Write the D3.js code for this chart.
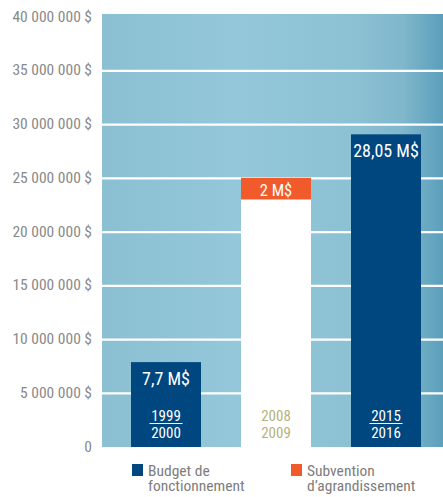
<!DOCTYPE html>
<html>
<head>
<meta charset="utf-8">
<script src="https://cdn.jsdelivr.net/npm/d3@7"></script>
<style>
  body { margin: 0; background: #fff; }
  svg text { font-family: "Liberation Sans Narrow", "Roboto Condensed", "Arial Narrow", Roboto, sans-serif; }
</style>
</head>
<body>
<div id="chart"></div>
<script>
// periods (top / bottom lines of the year label)
var periods = ['1999-2000', '2008-2009', '2015-2016'];
var yearsTop = ['1999', '2008', '2015'];
var yearsBottom = ['2000', '2009', '2016'];
// drawn heights, in dollars
var budget = [7.9e6, 23.05e6, 29.1e6];
var subvention = [0, 2e6, 0];
// labels printed on the bars
var budgetLabels = ['7,7 M$', '', '28,05 M$'];
var subventionLabels = ['', '2 M$', ''];
var yTicks = [0, 5e6, 10e6, 15e6, 20e6, 25e6, 30e6, 35e6, 40e6];
var legendNames = ['Budget de|fonctionnement', 'Subvention|d\u2019agrandissement'];

const width = 443
const height = 497

var blue = '#00467f', orange = '#f15a2b', khaki = '#b7b27c';

var svg = d3.select('#chart').append('svg')
	.attr('width', width)
	.attr('height', height);

var x = d3.scaleBand()
	.domain(periods)
	.range([111, 441])
	.paddingInner(0.3636)
	.paddingOuter(0.1818);

var y = d3.scaleLinear()
	.domain([0, 40.3e6])
	.range([447, 14]);

// background gradient
var grad = svg.append('defs').append('linearGradient')
	.attr('id', 'bg').attr('x1', 0).attr('x2', 1).attr('y1', 0).attr('y2', 0);
grad.selectAll('stop').data([
	[0, '#8bbfd2'], [0.4, '#93c7d9'], [0.75, '#8cc0d3'], [0.88, '#80b7cc'], [1, '#5b9fbb']
]).enter().append('stop')
	.attr('offset', function(d){ return d[0]; })
	.attr('stop-color', function(d){ return d[1]; });

svg.append('rect')
	.attr('x', 102).attr('y', y.range()[1])
	.attr('width', width - 102).attr('height', y(0) - y.range()[1])
	.attr('fill', 'url(#bg)');

// gridlines
svg.append('g').selectAll('line')
	.data(yTicks.filter(function(d){ return d > 0 && d < 40e6; }))
	.enter().append('line')
	.attr('x1', 102).attr('x2', width)
	.attr('y1', function(d){ return y(d); })
	.attr('y2', function(d){ return y(d); })
	.attr('stroke', '#fff').attr('stroke-width', 2.2);

// y axis labels
var fmt = function(d){
	if (d === 0) return '0';
	return d3.format(',')(d).replace(/,/g, ' ') + ' $';
};
svg.append('g').selectAll('text').data(yTicks).enter().append('text')
	.attr('x', 92)
	.attr('y', function(d){ return y(d) + 4.5; })
	.attr('text-anchor', 'end')
	.attr('font-size', 15.5)
	.attr('fill', '#898989')
	.text(fmt);

// budget bars
svg.append('g').selectAll('rect').data(budget).enter().append('rect')
	.attr('x', function(d, i){ return x(periods[i]); })
	.attr('width', x.bandwidth())
	.attr('y', function(d){ return y(d); })
	.attr('height', function(d){ return y(0) - y(d); })
	.attr('fill', function(d, i){ return subvention[i] > 0 ? '#fff' : blue; });

// subvention bars
svg.append('g').selectAll('rect').data(subvention).enter()
	.filter(function(d){ return d > 0; })
	.append('rect')
	.attr('x', function(d, i){ return x(periods[subvention.indexOf(d)]); })
	.attr('width', x.bandwidth())
	.attr('y', function(d){ var i = subvention.indexOf(d); return y(budget[i] + d); })
	.attr('height', function(d){ return y(0) - y(d); })
	.attr('fill', orange);

// value labels
svg.append('g').selectAll('text').data(budgetLabels).enter().append('text')
	.attr('x', function(d, i){ return x(periods[i]) + x.bandwidth() / 2; })
	.attr('y', function(d, i){ return y(budget[i]) + 23; })
	.attr('text-anchor', 'middle')
	.attr('font-size', 18)
	.attr('fill', '#fff')
	.text(function(d){ return d; });

svg.append('g').selectAll('text').data(subventionLabels).enter().append('text')
	.attr('x', function(d, i){ return x(periods[i]) + x.bandwidth() / 2; })
	.attr('y', function(d, i){ return y(budget[i] + subvention[i]) + 18; })
	.attr('text-anchor', 'middle')
	.attr('font-size', 16.5)
	.attr('fill', '#fff')
	.text(function(d){ return d; });

// year labels at the foot of each bar
var years = svg.append('g').selectAll('g').data(periods).enter().append('g')
	.attr('transform', function(d){ return 'translate(' + (x(d) + x.bandwidth() / 2) + ',0)'; });
years.append('text')
	.attr('y', 421)
	.attr('text-anchor', 'middle')
	.attr('font-size', 15)
	.attr('fill', function(d, i){ return subvention[i] > 0 ? khaki : '#fff'; })
	.text(function(d, i){ return yearsTop[i]; });
years.append('text')
	.attr('y', 437.5)
	.attr('text-anchor', 'middle')
	.attr('font-size', 15)
	.attr('fill', function(d, i){ return subvention[i] > 0 ? khaki : '#fff'; })
	.text(function(d, i){ return yearsBottom[i]; });
years.filter(function(d, i){ return subvention[i] === 0; })
	.append('line')
	.attr('x1', -16.5).attr('x2', 16.5)
	.attr('y1', 423.5).attr('y2', 423.5)
	.attr('stroke', '#fff').attr('stroke-width', 1.2);

// legend
var legendX = [132, 291];
var legendColors = [blue, orange];
var legend = svg.append('g').selectAll('g').data(legendNames).enter().append('g')
	.attr('transform', function(d, i){ return 'translate(' + legendX[i] + ',464)'; });
legend.append('rect')
	.attr('width', 11).attr('height', 12)
	.attr('fill', function(d, i){ return legendColors[i]; });
legend.append('text')
	.attr('font-size', 15.5)
	.attr('fill', '#7d7d7d')
	.selectAll('tspan')
	.data(function(d){ return d.split('|'); })
	.enter().append('tspan')
	.attr('x', 16)
	.attr('y', function(d, k){ return 12 + k * 14.7; })
	.text(function(d){ return d; });
</script>
</body>
</html>
